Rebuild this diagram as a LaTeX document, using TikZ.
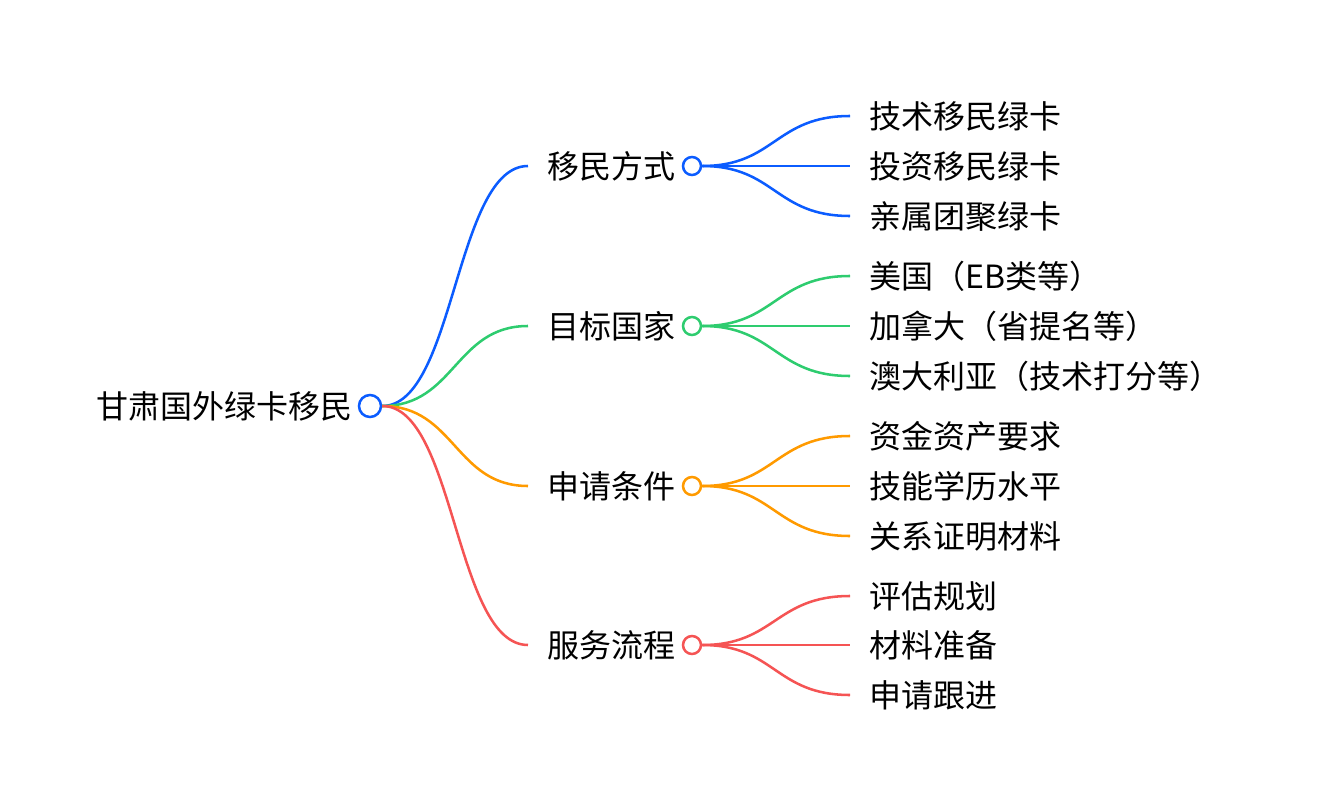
\documentclass[tikz,border=0pt]{standalone}
\usepackage{fontspec}
\setmainfont{Noto Sans CJK SC}
\definecolor{cblue}{HTML}{0B5CFF}
\definecolor{cgreen}{HTML}{2ECC6F}
\definecolor{corange}{HTML}{FF9A00}
\definecolor{cred}{HTML}{F55454}
\begin{document}
\begin{tikzpicture}[x=0.75pt,y=-0.75pt,
    txt/.style={inner xsep=14.25pt, inner ysep=0pt, anchor=west, font=\fontsize{24}{29}\selectfont},
    dot/.style={circle, draw=#1, line width=1.9pt, minimum size=13.5pt, inner sep=0pt},
    link/.style={line width=1.9pt}]
    \useasboundingbox (0,0) rectangle (1318,810);
    % root
    \node[dot=cblue, minimum size=16.5pt] (root) at (370,406) {};
    \node[txt, anchor=east, inner xsep=0pt] (rtext) at (353,406) {甘肃国外绿卡移民};
    % branch 1
    \node[dot=cblue] (m1) at (692,166) {};
    \node[txt] (t1) at (528,166) {移民方式};
    \draw[link, cblue] (root.east) .. controls (455,406) and (455,166) .. (t1.west);
    \foreach \y/\lab [count=\i] in {116/技术移民绿卡, 166/投资移民绿卡, 216/亲属团聚绿卡} {
        \node[txt] (a\i) at (850,\y) {\lab};
        \draw[link, cblue] (m1.east) .. controls (775,166) and (775,\y) .. (a\i.west);
    }
    % branch 2
    \node[dot=cgreen] (m2) at (692,326) {};
    \node[txt] (t2) at (528,326) {目标国家};
    \draw[link, cgreen] (root.east) .. controls (455,406) and (455,326) .. (t2.west);
    \foreach \y/\lab [count=\i] in {276/美国（EB类等）, 326/加拿大（省提名等）, 376/澳大利亚（技术打分等）} {
        \node[txt] (b\i) at (850,\y) {\lab};
        \draw[link, cgreen] (m2.east) .. controls (775,326) and (775,\y) .. (b\i.west);
    }
    % branch 3
    \node[dot=corange] (m3) at (692,486) {};
    \node[txt] (t3) at (528,486) {申请条件};
    \draw[link, corange] (root.east) .. controls (455,406) and (455,486) .. (t3.west);
    \foreach \y/\lab [count=\i] in {436/资金资产要求, 486/技能学历水平, 536/关系证明材料} {
        \node[txt] (c\i) at (850,\y) {\lab};
        \draw[link, corange] (m3.east) .. controls (775,486) and (775,\y) .. (c\i.west);
    }
    % branch 4
    \node[dot=cred] (m4) at (692,645) {};
    \node[txt] (t4) at (528,645) {服务流程};
    \draw[link, cred] (root.east) .. controls (455,406) and (455,645) .. (t4.west);
    \foreach \y/\lab [count=\i] in {596/评估规划, 645/材料准备, 695/申请跟进} {
        \node[txt] (d\i) at (850,\y) {\lab};
        \draw[link, cred] (m4.east) .. controls (775,645) and (775,\y) .. (d\i.west);
    }
\end{tikzpicture}
\end{document}
